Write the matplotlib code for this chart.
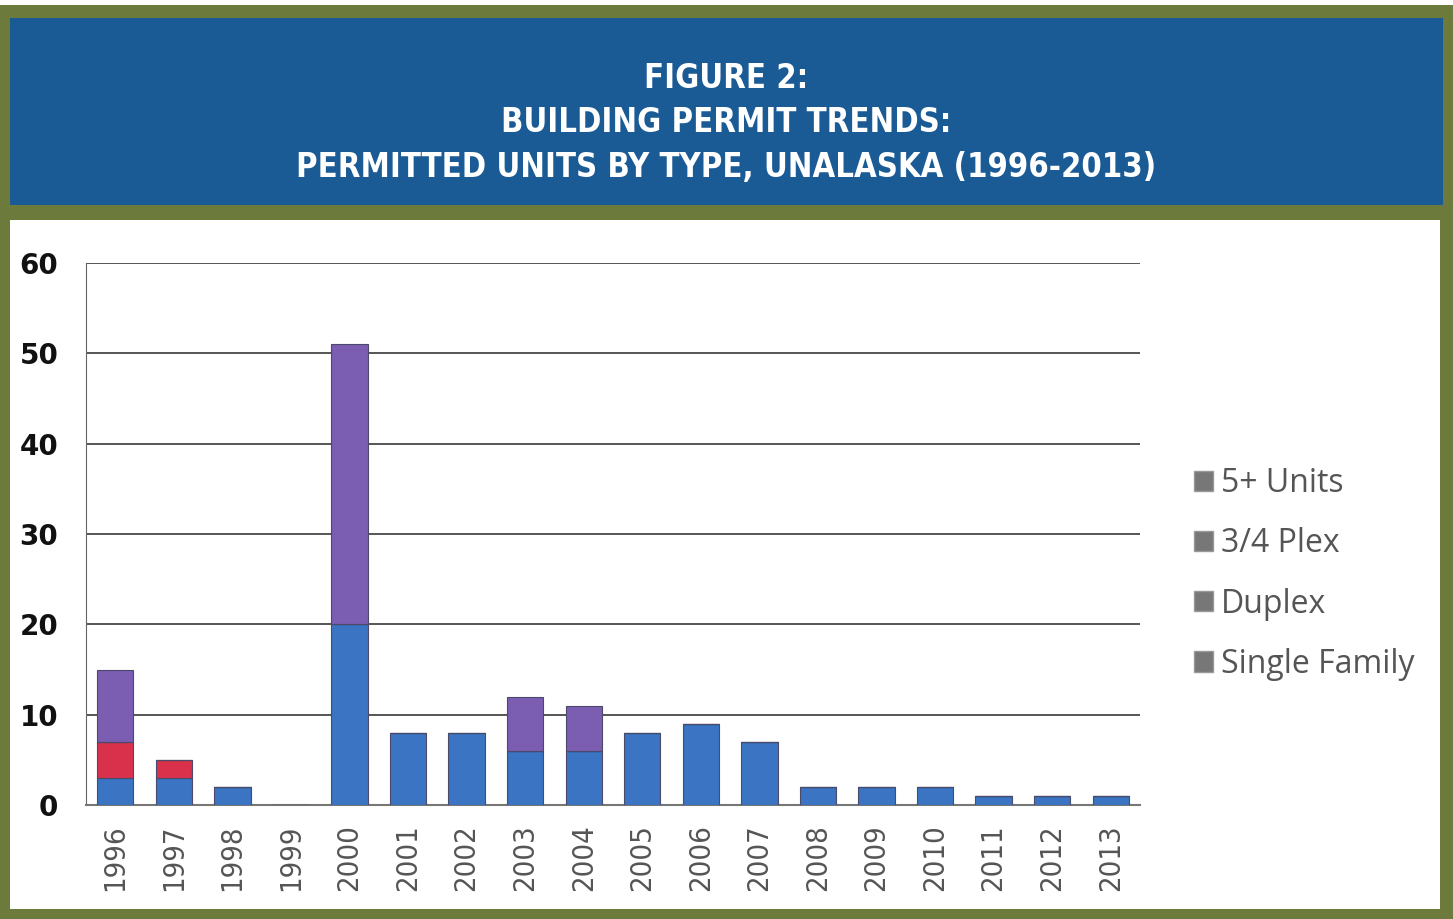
import numpy as np
import matplotlib.pyplot as plt
from matplotlib.patches import Rectangle, Patch

# data
years = [str(y) for y in range(1996, 2014)]
single_family = [3, 3, 2, 0, 20, 8, 8, 6, 6, 8, 9, 7, 2, 2, 2, 1, 1, 1]
duplex = [4, 2, 0, 0, 0, 0, 0, 0, 0, 0, 0, 0, 0, 0, 0, 0, 0, 0]
plex_34 = [0, 0, 0, 0, 0, 0, 0, 0, 0, 0, 0, 0, 0, 0, 0, 0, 0, 0]
units_5plus = [8, 0, 0, 0, 31, 0, 0, 6, 5, 0, 0, 0, 0, 0, 0, 0, 0, 0]

series = [("Single Family", single_family, "#3a74c2"),
          ("Duplex", duplex, "#d9304c"),
          ("3/4 Plex", plex_34, "#2e9c8c"),
          ("5+ Units", units_5plus, "#7b5db2")]

W, H = 1453, 919
fig = plt.figure(figsize=(W / 100, H / 100), dpi=100)
fig.patch.set_facecolor("white")

olive = "#6c7a3c"
# outer frame and header band
fig.patches.append(Rectangle((0, 0), 1, 1 - 5 / H, transform=fig.transFigure,
                             facecolor=olive, edgecolor="none", zorder=-10))
fig.patches.append(Rectangle((10 / W, 10 / H), 1 - 23 / W, 1 - 230 / H,
                             transform=fig.transFigure, facecolor="white",
                             edgecolor="none", zorder=-9))
fig.patches.append(Rectangle((10 / W, 1 - 205 / H), 1 - 20 / W, 187 / H,
                             transform=fig.transFigure, facecolor="#1b5b95",
                             edgecolor="none", zorder=-9))

for txt, y in [("FIGURE 2:", 78), ("BUILDING PERMIT TRENDS:", 123),
               ("PERMITTED UNITS BY TYPE, UNALASKA (1996-2013)", 167)]:
    fig.text(0.5, 1 - y / H, txt, ha="center", va="center", color="white",
             fontsize=23.5, fontweight="bold", family="DejaVu Sans",
             fontstretch="condensed")

ax = fig.add_axes([86 / W, 1 - 805 / H, (1140 - 86) / W, (805 - 263) / H])
ax.set_zorder(5)
ax.patch.set_alpha(0)
x = np.arange(len(years))
bottom = np.zeros(len(years))
for name, vals, col in series:
    ax.bar(x, vals, width=0.62, bottom=bottom, color=col,
           edgecolor="#4a4a6a", linewidth=0.8, zorder=3)
    bottom += np.array(vals)

ax.set_xlim(-0.5, len(years) - 0.5)
ax.set_ylim(0, 60)
ax.set_yticks(range(0, 61, 10))
ax.yaxis.grid(True, color="#555555", linewidth=1.4, zorder=0)
ax.set_axisbelow(True)
for s in ["top", "right"]:
    ax.spines[s].set_visible(False)
ax.spines["left"].set_color("#666666")
ax.spines["bottom"].set_color("#777777")
ax.spines["bottom"].set_linewidth(1.5)
ax.tick_params(axis="both", length=0)
ax.tick_params(axis="y", pad=20)
ax.set_yticklabels([str(v) for v in range(0, 61, 10)], fontsize=20,
                   fontweight="bold", color="#111111", family="DejaVu Sans")
ax.set_xticks(x)
ax.set_xticklabels(years, rotation=90, fontsize=21, color="#555555",
                   family="DejaVu Sans", fontstretch="condensed")
ax.tick_params(axis="x", pad=14)

handles = [Patch(facecolor="#777777", edgecolor="#999999", label=n)
           for n, _, _ in series[::-1]]
leg = fig.legend(handles=handles, loc="center left",
                 bbox_to_anchor=(1165 / W, 1 - 574 / H), frameon=False,
                 prop={"family": "Open Sans", "size": 23},
                 handlelength=0.6, handleheight=0.6,
                 handletextpad=0.25, labelspacing=0.85)
for t in leg.get_texts():
    t.set_color("#555555")

fig.savefig("out.png", dpi=100)
